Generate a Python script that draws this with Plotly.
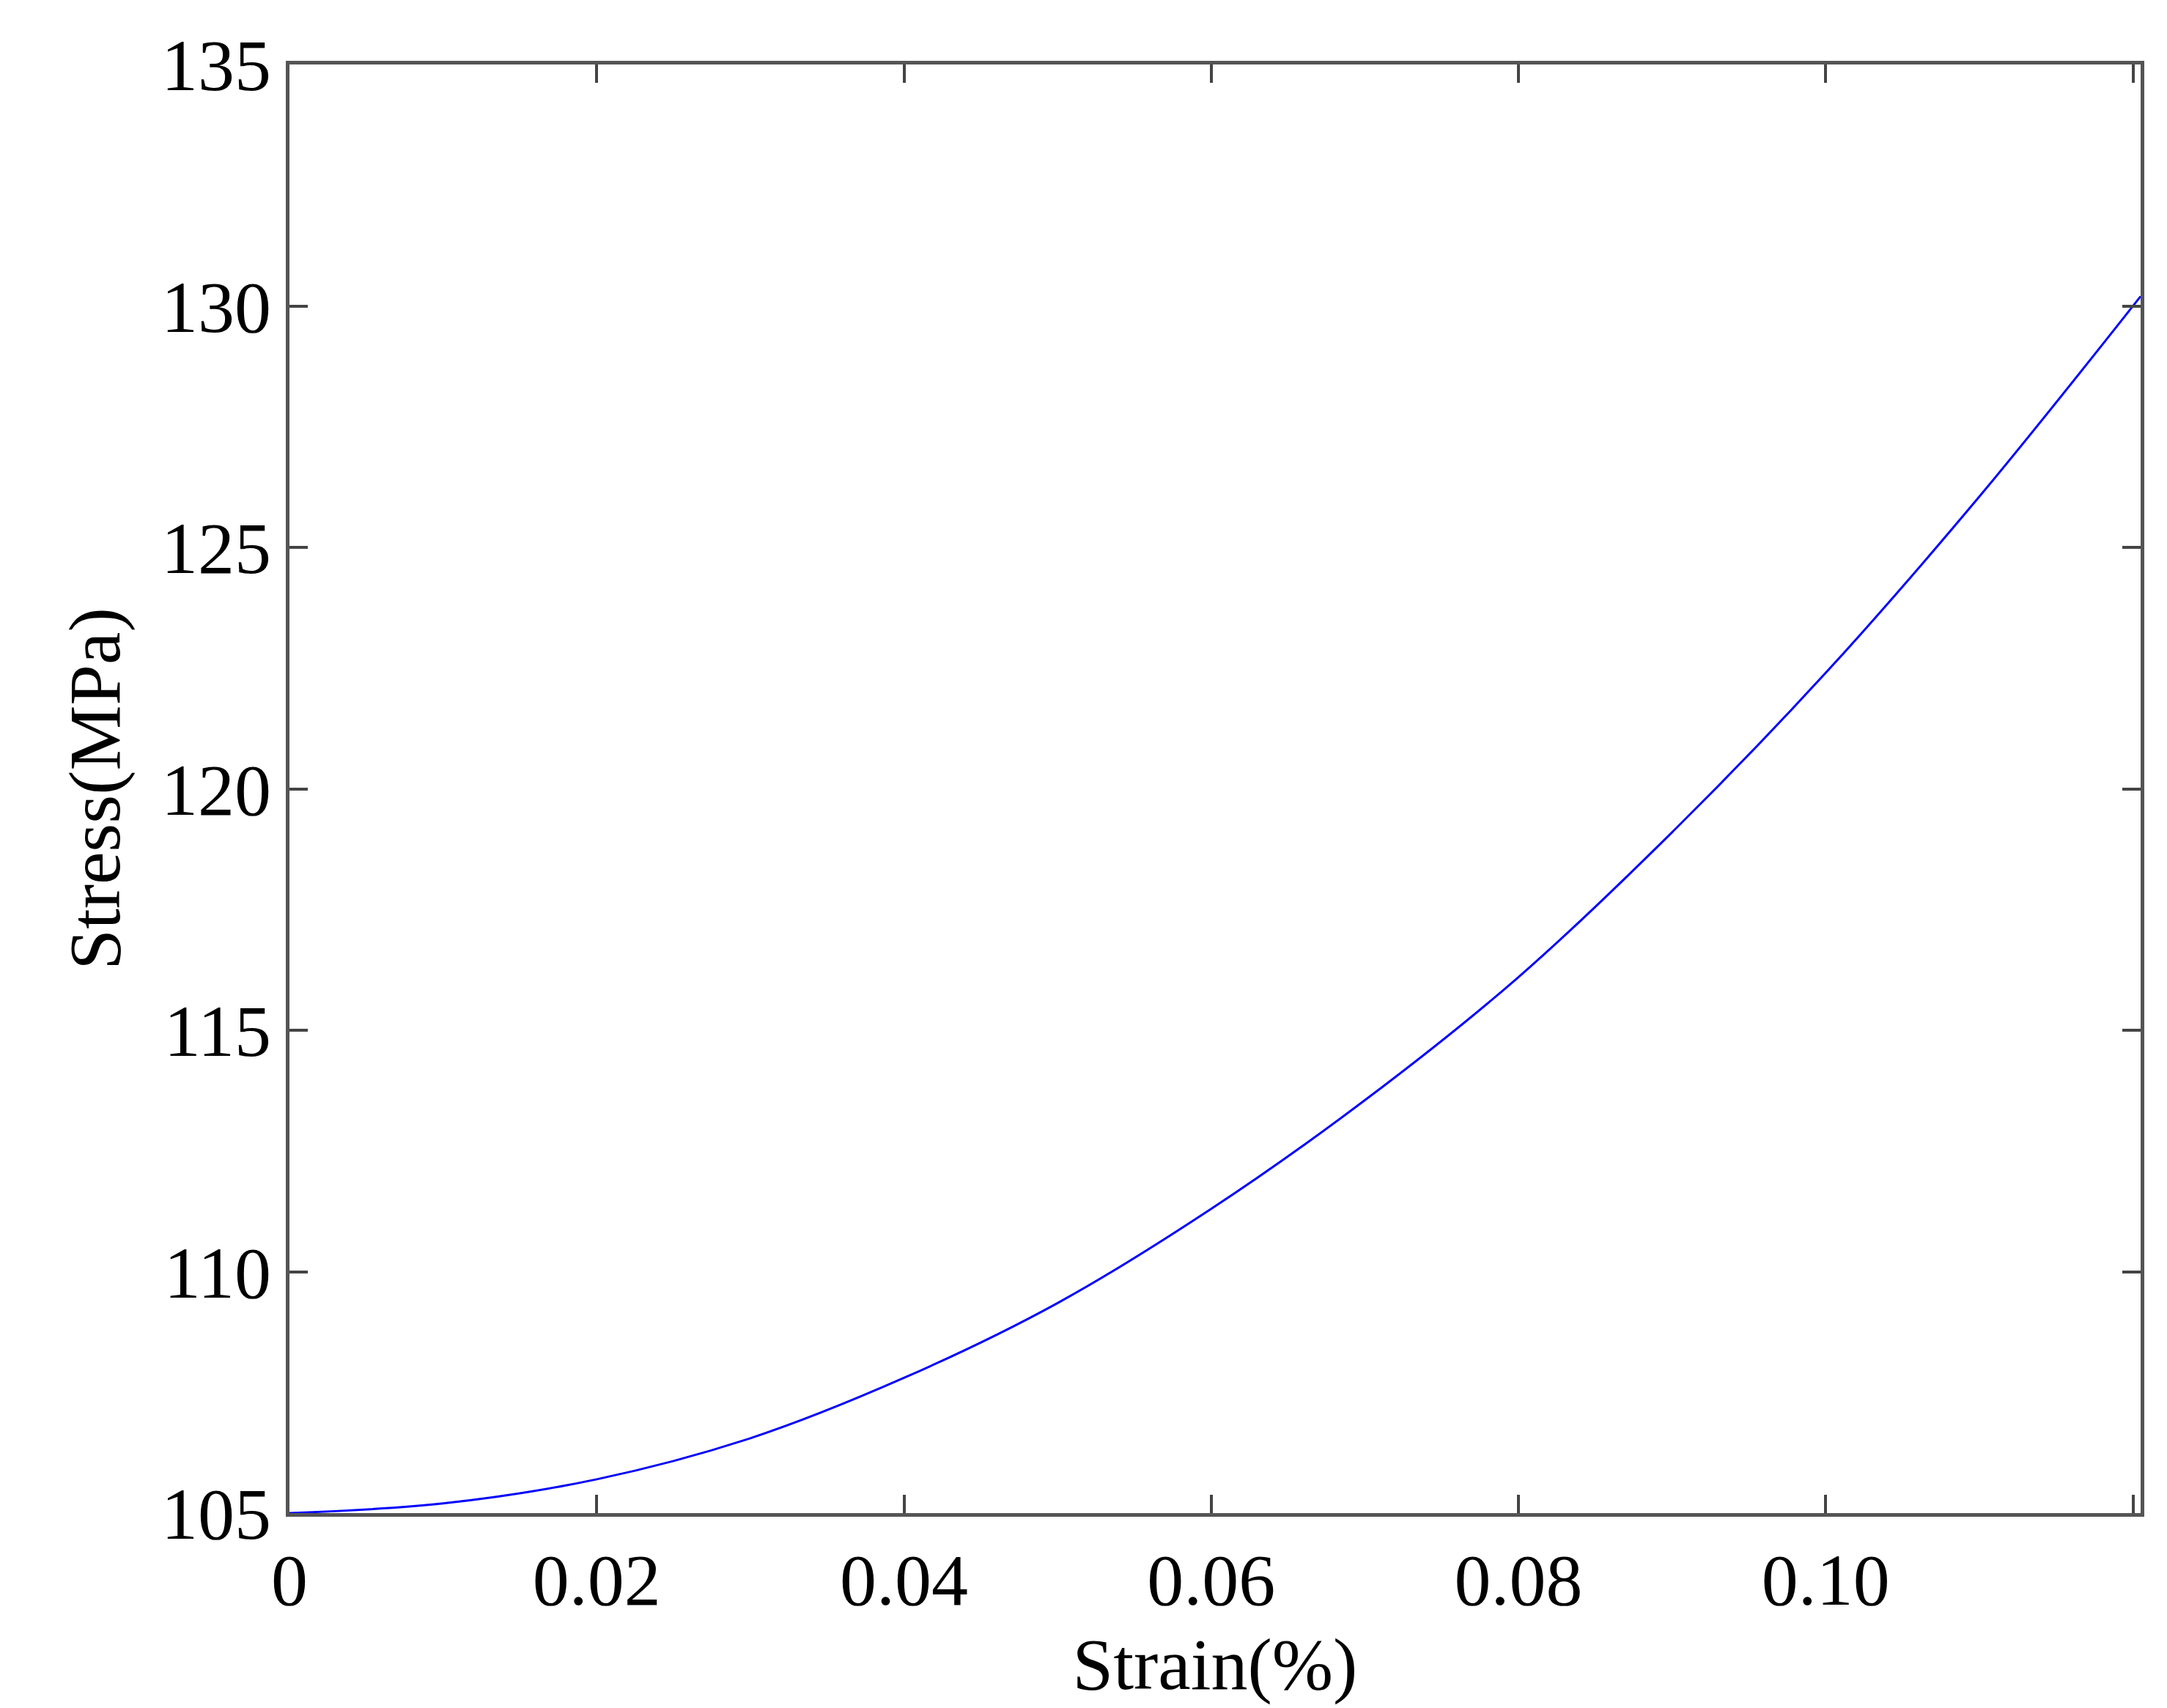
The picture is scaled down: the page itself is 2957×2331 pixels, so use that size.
import plotly.graph_objects as go

strain = [0, 0.01, 0.02, 0.03, 0.04, 0.05, 0.06, 0.07, 0.08, 0.09, 0.10, 0.11, 0.1205]
stress = [105.0, 105.2, 105.7, 106.55, 107.8, 109.35, 111.3, 113.55, 116.1, 119.1, 122.4, 126.05, 130.2]
xticks = [0, 0.02, 0.04, 0.06, 0.08, 0.10, 0.12]
xticklabels = ["0", "0.02", "0.04", "0.06", "0.08", "0.10", "0.12"]
yticks = [105, 110, 115, 120, 125, 130, 135]

fig = go.Figure(go.Scatter(x=strain, y=stress, mode="lines", line=dict(color="blue", width=3, shape="spline")))
font = dict(family="Liberation Serif", size=100, color="black")
axcommon = dict(ticks="inside", ticklen=25, tickwidth=4, tickcolor="#444", showline=True, linewidth=5,
                linecolor="#555", mirror="allticks", showgrid=False, zeroline=False, tickfont=font)
fig.update_xaxes(range=[0, 0.1205], tickvals=xticks, ticktext=xticklabels,
                 title=dict(text="Strain(%)", font=font, standoff=25), **axcommon)
fig.update_yaxes(range=[105, 135], tickvals=yticks,
                 title=dict(text="Stress(MPa)", font=font, standoff=25), **axcommon)
fig.update_layout(width=2957, height=2331, plot_bgcolor="white", paper_bgcolor="white",
                  showlegend=False, margin=dict(l=387, r=44, t=80, b=2331-2057))
fig.write_html("out.html")
